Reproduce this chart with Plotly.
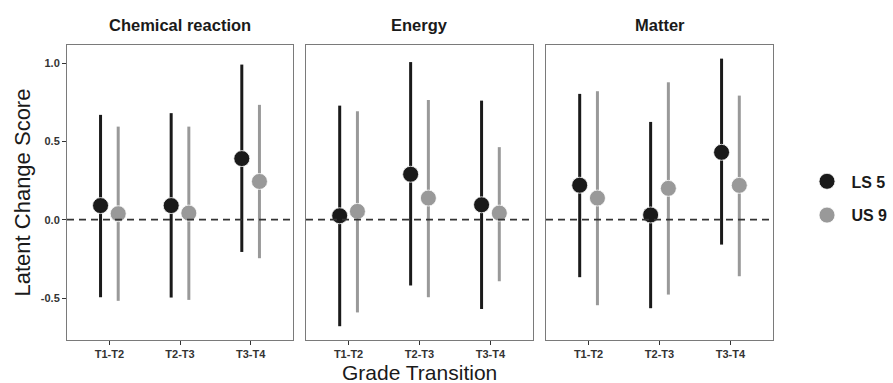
import plotly.graph_objects as go

# Facets, x categories and groups
constructs = ["Chemical reaction", "Energy", "Matter"]
transitions = ["T1-T2", "T2-T3", "T3-T4"]
groups = ["LS 5", "US 9"]

# Latent change score estimates with interval bounds, one row per construct
ls5_mean = [[0.09, 0.09, 0.39], [0.025, 0.29, 0.095], [0.22, 0.03, 0.43]]
ls5_lower = [[-0.495, -0.497, -0.206], [-0.68, -0.42, -0.57], [-0.367, -0.565, -0.159]]
ls5_upper = [[0.669, 0.68, 0.99], [0.728, 1.006, 0.76], [0.803, 0.624, 1.028]]

us9_mean = [[0.038, 0.042, 0.244], [0.053, 0.138, 0.042], [0.138, 0.2, 0.219]]
us9_lower = [[-0.518, -0.512, -0.246], [-0.592, -0.495, -0.393], [-0.546, -0.478, -0.361]]
us9_upper = [[0.594, 0.594, 0.733], [0.692, 0.764, 0.463], [0.82, 0.877, 0.792]]

y_ticks = [-0.5, 0.0, 0.5, 1.0]

series = [
    dict(name=groups[0], mean=ls5_mean, lo=ls5_lower, hi=ls5_upper, color="#1a1a1a", shift=-0.125),
    dict(name=groups[1], mean=us9_mean, lo=us9_lower, hi=us9_upper, color="#999999", shift=0.125),
]

FONT = "Liberation Sans, Arial, sans-serif"
W, H = 893, 383
ML, MR, MT, MB = 67, 120, 45, 43
plot_w = W - ML - MR
panel_px = [(67, 293), (306, 533), (546, 773)]
domains = [((a - ML) / plot_w, (b - ML) / plot_w) for a, b in panel_px]

fig = go.Figure()

for p, construct in enumerate(constructs):
    sfx = "" if p == 0 else str(p + 1)
    for s in series:
        xs = [i + s["shift"] for i in range(len(transitions))]
        m = s["mean"][p]
        fig.add_trace(go.Scatter(
            x=xs, y=m,
            xaxis="x" + sfx, yaxis="y" + sfx,
            mode="markers",
            # a little extra room between legend key and label
            name="\u00a0" + s["name"],
            legendgroup=s["name"],
            showlegend=(p == 0),
            marker=dict(size=16, color=s["color"], line=dict(color="white", width=0.8)),
            error_y=dict(
                type="data", symmetric=False,
                array=[h - v for h, v in zip(s["hi"][p], m)],
                arrayminus=[v - l for v, l in zip(m, s["lo"][p])],
                color=s["color"], thickness=3, width=0,
            ),
            hoverinfo="skip",
        ))

    axis_common = dict(showgrid=False, zeroline=False, showline=True, mirror=True,
                       linecolor="#7a7a7a", linewidth=1)
    fig.layout["xaxis" + sfx] = dict(
        axis_common, domain=list(domains[p]), anchor="y" + sfx,
        range=[-0.6, 2.6], tickvals=list(range(len(transitions))), ticktext=transitions,
        ticks="outside", ticklen=4, tickcolor="#333333",
        tickfont=dict(family=FONT, size=11, color="#333333", weight="bold"),
    )
    yax = dict(axis_common, domain=[0, 1], anchor="x" + sfx, range=[-0.768, 1.115])
    if p == 0:
        yax.update(tickvals=y_ticks, ticktext=[f"{v:.1f}" for v in y_ticks],
                   ticks="outside", ticklen=4, tickcolor="#333333",
                   tickfont=dict(family=FONT, size=11, color="#333333", weight="bold"))
    else:
        yax.update(matches="y", showticklabels=False, ticks="")
    fig.layout["yaxis" + sfx] = yax

    # zero reference line
    fig.add_shape(type="line", xref=f"x{sfx} domain", yref="y" + sfx,
                  x0=0, x1=1, y0=0, y1=0,
                  line=dict(color="#333333", width=1.8, dash="7px,5px"))

    # facet strip title
    fig.add_annotation(text=f"<b>{construct}</b>", xref="paper", yref="paper",
                       x=(domains[p][0] + domains[p][1]) / 2, y=1 + 20 / (H - MT - MB),
                       xanchor="center", yanchor="middle", showarrow=False,
                       font=dict(family=FONT, size=16.5, color="#1a1a1a"))

fig.add_annotation(text="Latent Change Score", xref="paper", yref="paper",
                   x=-(ML - 22) / plot_w, y=0.5, textangle=-90,
                   xanchor="center", yanchor="middle", showarrow=False,
                   font=dict(family=FONT, size=22, color="#1a1a1a"))
fig.add_annotation(text="Grade Transition", xref="paper", yref="paper",
                   x=(domains[1][0] + domains[1][1]) / 2, y=-(372 - (H - MB)) / (H - MT - MB),
                   xanchor="center", yanchor="middle", showarrow=False,
                   font=dict(family=FONT, size=21, color="#1a1a1a"))

fig.update_layout(
    width=W, height=H,
    margin=dict(l=ML, r=MR, t=MT, b=MB, autoexpand=False),
    paper_bgcolor="white", plot_bgcolor="white",
    showlegend=True,
    legend=dict(x=(807 - ML) / plot_w, xanchor="left", y=0.48, yanchor="middle",
                font=dict(family=FONT, size=16, color="#1a1a1a", weight="bold"),
                tracegroupgap=10, itemsizing="trace",
                bgcolor="rgba(0,0,0,0)"),
)

fig.write_html("out.html")
